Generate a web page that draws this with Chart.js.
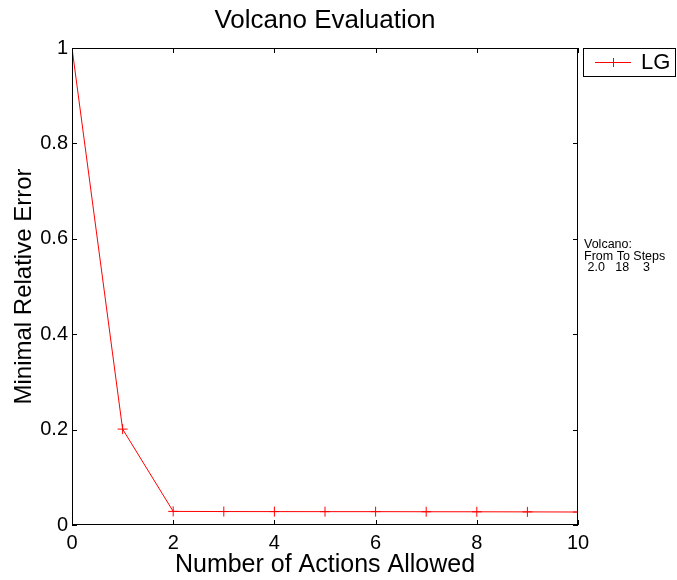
<!DOCTYPE html>
<html>
<head>
<meta charset="utf-8">
<script src="https://cdn.jsdelivr.net/npm/chart.js@4/dist/chart.umd.min.js"></script>
<style>
  html, body { margin: 0; padding: 0; background: #fff; }
  #wrap { width: 677px; height: 580px; position: relative; }
</style>
</head>
<body>
<div id="wrap"><canvas id="c" width="677" height="580"></canvas></div>
<script>
// Number of actions allowed (x) and minimal relative error of the LG run (y)
const actions = [0, 1, 2, 3, 4, 5, 6, 7, 8, 9, 10];
const lgError = [1.0, 0.201, 0.0285, 0.0282, 0.0281, 0.028, 0.028, 0.0278, 0.0277, 0.0275, 0.0272];
const xTicks = [0, 2, 4, 6, 8, 10];
const yTicks = [0, 0.2, 0.4, 0.6, 0.8, 1];
const noteLines = ['Volcano:', 'From To Steps', ' 2.0   18    3'];

const FONT = '"Liberation Sans", Arial, Helvetica, sans-serif';

// Box frame with inward tick marks on all four sides, plus title, legend and note
const frame = {
  id: 'frame',
  afterDraw(chart) {
    const { ctx, chartArea: a, scales } = chart;
    const x = scales.x, y = scales.y;
    const tl = 5;
    ctx.save();
    ctx.strokeStyle = '#000';
    ctx.lineWidth = 1;
    ctx.strokeRect(a.left + 0.5, a.top + 0.5, a.right - a.left - 1, a.bottom - a.top - 1);
    ctx.beginPath();
    xTicks.forEach(v => {
      const px = Math.round(x.getPixelForValue(v)) + 0.5;
      ctx.moveTo(px, a.bottom); ctx.lineTo(px, a.bottom - tl);
      ctx.moveTo(px, a.top); ctx.lineTo(px, a.top + tl);
    });
    yTicks.forEach(v => {
      const py = Math.round(y.getPixelForValue(v)) + 0.5;
      ctx.moveTo(a.left, py); ctx.lineTo(a.left + tl, py);
      ctx.moveTo(a.right, py); ctx.lineTo(a.right - tl, py);
    });
    ctx.stroke();

    // title
    ctx.fillStyle = '#000';
    ctx.font = '26px ' + FONT;
    ctx.textAlign = 'center';
    ctx.textBaseline = 'middle';
    ctx.fillText('Volcano Evaluation', (a.left + a.right) / 2, 21);

    // legend box
    const lx = a.right + 5, ly = a.top, lw = 92, lh = 28;
    ctx.strokeRect(lx + 0.5, ly + 0.5, lw, lh);
    const ds = chart.data.datasets[0];
    ctx.strokeStyle = ds.borderColor;
    ctx.beginPath();
    ctx.moveTo(lx + 12, ly + 14.5); ctx.lineTo(lx + 48, ly + 14.5);
    ctx.moveTo(lx + 30.5, ly + 10); ctx.lineTo(lx + 30.5, ly + 19);
    ctx.stroke();
    ctx.fillStyle = '#000';
    ctx.font = '22px ' + FONT;
    ctx.textAlign = 'left';
    ctx.fillText(ds.label, lx + 58, ly + 15);

    // run settings note
    ctx.font = '12.5px ' + FONT;
    noteLines.forEach((t, i) => ctx.fillText(t, a.right + 6, 245 + i * 11.5));
    ctx.restore();
  }
};

new Chart(document.getElementById('c'), {
  type: 'line',
  data: {
    labels: actions,
    datasets: [{
      label: 'LG',
      data: actions.map((a, i) => ({ x: a, y: lgError[i] })),
      borderColor: '#ff0000',
      backgroundColor: '#ff0000',
      borderWidth: 1,
      pointStyle: 'cross',
      pointRadius: 5,
      pointBorderWidth: 1,
      pointHoverRadius: 5,
      tension: 0,
      fill: false
    }]
  },
  options: {
    responsive: false,
    animation: false,
    layout: { padding: { top: 48, right: 99, left: 0, bottom: 0 } },
    plugins: { legend: { display: false }, title: { display: false }, tooltip: { enabled: false } },
    scales: {
      x: {
        type: 'linear', min: 0, max: 10,
        afterBuildTicks: s => { s.ticks = xTicks.map(v => ({ value: v })); },
        afterFit: s => { s.height = 55; },
        grid: { display: false, drawTicks: false },
        border: { display: false },
        ticks: { color: '#000', font: { family: FONT, size: 20 }, padding: 6, maxRotation: 0,
                 callback: v => String(v) },
        title: { display: true, text: 'Number of Actions Allowed', color: '#000',
                 font: { family: FONT, size: 25 }, padding: { top: 0, bottom: 0 } }
      },
      y: {
        type: 'linear', min: 0, max: 1,
        afterBuildTicks: s => { s.ticks = yTicks.map(v => ({ value: v })); },
        afterFit: s => { s.width = 72; },
        grid: { display: false, drawTicks: false },
        border: { display: false },
        ticks: { color: '#000', font: { family: FONT, size: 20 }, padding: 4,
                 callback: v => String(v) },
        title: { display: true, text: 'Minimal Relative Error', color: '#000',
                 font: { family: FONT, size: 24 }, padding: { top: 10, bottom: 0 } }
      }
    }
  },
  plugins: [frame]
});
</script>
</body>
</html>
